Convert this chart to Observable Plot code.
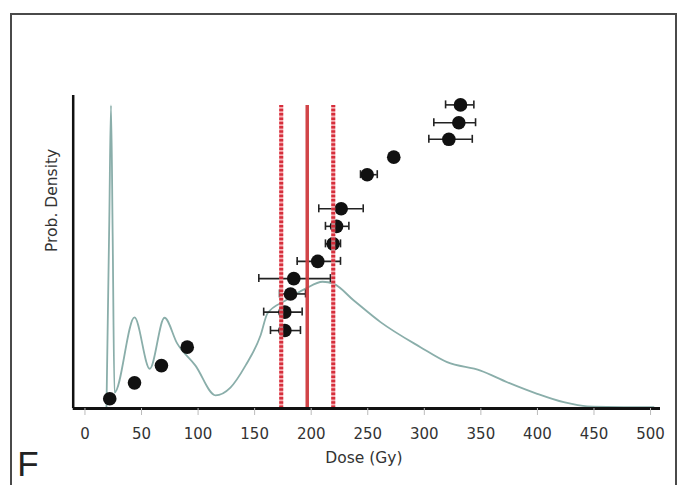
<!DOCTYPE html>
<html>
<head>
<meta charset="utf-8">
<script src="https://cdn.jsdelivr.net/npm/d3@7"></script>
<script src="https://cdn.jsdelivr.net/npm/@observablehq/plot@0.6"></script>
<style>
  html, body { margin: 0; padding: 0; background: #fff; }
  #wrap { position: relative; width: 681px; height: 485px; overflow: hidden; }
  #border { position: absolute; left: 10px; top: 13px; width: 667px; height: 480px; border: 2px solid #4a4a4a; box-sizing: border-box; }
  #chart { position: absolute; left: 0; top: 0; }
</style>
</head>
<body>
<div id="wrap"><div id="border"></div><div id="chart"></div></div>
<script>
// Individual dose estimates (Gy), their plotted heights (arbitrary rank units) and error bars
const doses   = [21.9, 43.8, 67.6, 90.4, 176.7, 176.7, 181.7, 184.6, 205.8, 219.4, 222.4, 226.5, 249.5, 273.0, 321.7, 330.5, 332.0];
const heights = [3.1, 8.2, 13.7, 19.6, 24.9, 30.8, 36.6, 41.5, 47.0, 52.6, 58.2, 63.8, 74.7, 80.3, 86.0, 91.3, 97.0];
const errLow  = [null, null, null, null, 164.0, 158.0, 172.0, 153.7, 187.6, 212.6, 212.6, 206.7, 243.6, null, 304.0, 308.4, 318.8];
const errHigh = [null, null, null, null, 190.5, 192.0, 195.0, 217.0, 225.9, 225.9, 233.3, 246.0, 258.4, null, 342.4, 345.3, 343.8];

// Probability density curve
const curveDose    = [19.0, 21.5, 23.0, 24.5, 26.1, 43.8, 57.3, 70.3, 81.5, 97.7, 115.4, 128.6, 141.9, 155.2, 161.4, 177.3, 195.0, 210.0, 220.0, 237.7, 261.3, 296.6, 320.2, 349.7, 373.3, 399.8, 423.3, 444.0, 502.7];
const curveDensity = [0.0, 60.0, 96.8, 55.0, 5.1, 29.1, 12.7, 29.0, 20.8, 13.7, 4.2, 6.7, 13.7, 23.3, 30.4, 34.5, 38.3, 40.5, 39.8, 34.5, 27.6, 19.6, 14.8, 12.1, 8.4, 4.7, 2.0, 0.7, 0.4];

// Central dose and its bounds
const centralDose = [196.5];
const boundDoses  = [173.5, 219.5];
const lineTop = 96.8;

const xTicks = [0, 50, 100, 150, 200, 250, 300, 350, 400, 450, 500];
const xDomain = [-10.4, 508.8];

const points = doses.map((d, i) => ({dose: d, h: heights[i], lo: errLow[i], hi: errHigh[i]}));
const bars = points.filter(p => p.lo != null);
const curve = curveDose.map((d, i) => ({dose: d, dens: curveDensity[i]}));

const font = "'DejaVu Sans', sans-serif";

const plot = Plot.plot({
  width: 681,
  height: 485,
  marginLeft: 72.7,
  marginRight: 21,
  marginTop: 95,
  marginBottom: 77,
  style: {fontFamily: font, background: "transparent", overflow: "visible"},
  x: {domain: xDomain},
  y: {domain: [0, 100]},
  marks: [
    Plot.line(curve, {x: "dose", y: "dens", stroke: "#8aaeaa", strokeWidth: 1.8, curve: "monotone-x"}),
    Plot.ruleY(bars, {x1: "lo", x2: "hi", y: "h", stroke: "#222", strokeWidth: 1.6}),
    Plot.ruleX(bars, {x: "lo", y1: "h", y2: "h", insetTop: -4, insetBottom: -4, stroke: "#222", strokeWidth: 1.6}),
    Plot.ruleX(bars, {x: "hi", y1: "h", y2: "h", insetTop: -4, insetBottom: -4, stroke: "#222", strokeWidth: 1.6}),
    Plot.dot(points, {x: "dose", y: "h", r: 6.8, fill: "#111", stroke: "none"}),
    Plot.ruleX(boundDoses, {y1: 0, y2: lineTop, stroke: "#f29aa0", strokeWidth: 4, strokeOpacity: 0.8}),
    Plot.ruleX(boundDoses, {y1: 0, y2: lineTop, stroke: "#d3202e", strokeWidth: 4, strokeDasharray: "2.5,1.8", strokeOpacity: 0.9}),
    Plot.ruleX(centralDose, {y1: 0, y2: lineTop, stroke: "#cf3a3e", strokeWidth: 3.5, strokeOpacity: 0.95}),
    Plot.ruleY([0], {stroke: "#111", strokeWidth: 3}),
    Plot.ruleX([xDomain[0]], {y1: 0, y2: 100, stroke: "#111", strokeWidth: 2.5}),
    Plot.axisX(xTicks, {tickSize: 7, tickPadding: 13, stroke: "#bbb", fill: "#333", fontSize: 15, label: null}),
    Plot.axisY({ticks: [], label: null}),
    Plot.text(["Dose (Gy)"], {frameAnchor: "bottom", dx: -3, dy: 54, fontSize: 15.5, fill: "#333"}),
    Plot.text(["Prob. Density"], {frameAnchor: "left", dx: -21, rotate: -90, fontSize: 15.5, fill: "#333"}),
    Plot.text(["F"], {frameAnchor: "bottom-left", dx: -56, dy: 67, lineAnchor: "bottom", textAnchor: "start", fontSize: 35, fontFamily: "'Liberation Sans', Arial, sans-serif", fill: "#222"})
  ]
});
document.getElementById("chart").appendChild(plot);
</script>
</body>
</html>
